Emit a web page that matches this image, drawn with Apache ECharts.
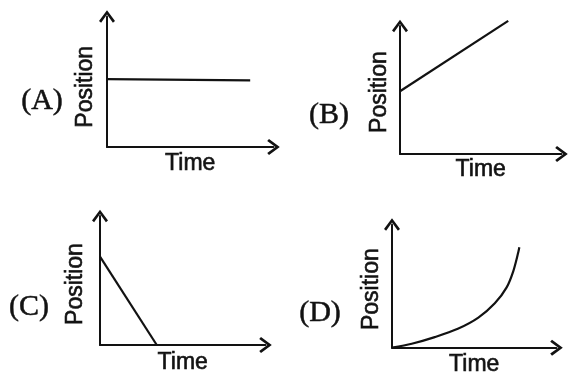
<!DOCTYPE html>
<html>
<head>
<meta charset="utf-8">
<script src="https://cdn.jsdelivr.net/npm/echarts@6/dist/echarts.min.js"></script>
<style>
  html, body { margin: 0; padding: 0; background: #ffffff; }
  #chart { width: 569px; height: 377px; }
</style>
</head>
<body>
<div id="chart"></div>
<script>
// ---- data (arbitrary units, each axis 0..100) ----
const panelLabels = ['(A)', '(B)', '(C)', '(D)'];
const xAxisTitle = 'Time';
const yAxisTitle = 'Position';

const timeA = [0, 86];
const posA  = [52, 51];

const timeB = [0, 67];
const posB  = [49, 104];

const timeC = [0, 34.3];
const posC  = [68.5, 0];

const timeD = [0, 12, 26, 40, 52.5, 62.5, 69.7, 73.7, 76.8, 77.4];
const posD  = [0, 3.2, 8.6, 15.3, 24.4, 36, 49, 62, 77.6, 81.5];

// ---- layout / style ----
const INK = '#121212';
const ARROW = 'path://M8,0 L16,10.8 L13.9,12.6 L8,4.4 L2.1,12.6 L0,10.8 Z';
const grids = [
  { left: 107, top: 16.5, right: 295.5, bottom: 230 },
  { left: 400, top: 26,   right: 7.5,   bottom: 223 },
  { left: 100, top: 216,  right: 303.5, bottom: 32 },
  { left: 392, top: 224.5, right: 12.5, bottom: 24 }
];
const yNameGap = [10, 9, 13, 9];
const yNamePad = [[0, 10, 0, 0], [0, 4, 0, 0], [0, 7, 0, 0], [0, 6, 0, 0]];
const xNameGap = [5, 4, 6, 5];
const labelPos = [[42, 101], [329, 115], [29, 307], [320, 313]];

function zip(xs, ys) { return xs.map((x, i) => [x, ys[i]]); }
const seriesData = [zip(timeA, posA), zip(timeB, posB), zip(timeC, posC), zip(timeD, posD)];

const axisLine = {
  show: true,
  symbol: ['none', ARROW],
  symbolSize: [16, 13],
  lineStyle: { color: INK, width: 2 }
};
const nameFont = {
  fontFamily: 'Liberation Sans', fontSize: 23, color: INK,
  textBorderColor: INK, textBorderWidth: 0.6
};

const option = {
  backgroundColor: '#ffffff',
  animation: false,
  grid: grids.map(g => Object.assign({ containLabel: false }, g)),
  xAxis: grids.map((g, i) => ({
    gridIndex: i, type: 'value', min: 0, max: 100,
    name: xAxisTitle, nameLocation: 'middle', nameGap: xNameGap[i],
    nameTextStyle: Object.assign({}, nameFont, { verticalAlign: 'top' }),
    axisLine: axisLine, axisTick: { show: false }, axisLabel: { show: false },
    splitLine: { show: false }
  })),
  yAxis: grids.map((g, i) => ({
    gridIndex: i, type: 'value', min: 0, max: 100,
    name: yAxisTitle, nameLocation: 'middle', nameGap: yNameGap[i],
    nameTextStyle: Object.assign({}, nameFont, { padding: yNamePad[i] }),
    axisLine: axisLine, axisTick: { show: false }, axisLabel: { show: false },
    splitLine: { show: false }
  })),
  series: seriesData.map((d, i) => ({
    type: 'line', xAxisIndex: i, yAxisIndex: i, data: d,
    smooth: i === 3 ? 0.3 : false,
    showSymbol: false, clip: false,
    lineStyle: { color: INK, width: 2.2 }
  })),
  graphic: panelLabels.map((t, i) => ({
    type: 'text', x: labelPos[i][0], y: labelPos[i][1],
    style: {
      text: t, fill: INK, font: '30px "Liberation Serif"',
      stroke: INK, lineWidth: 0.5,
      align: 'center', verticalAlign: 'middle'
    }
  }))
};

const chart = echarts.init(document.getElementById('chart'), null, { renderer: 'canvas' });
chart.setOption(option);
</script>
</body>
</html>
